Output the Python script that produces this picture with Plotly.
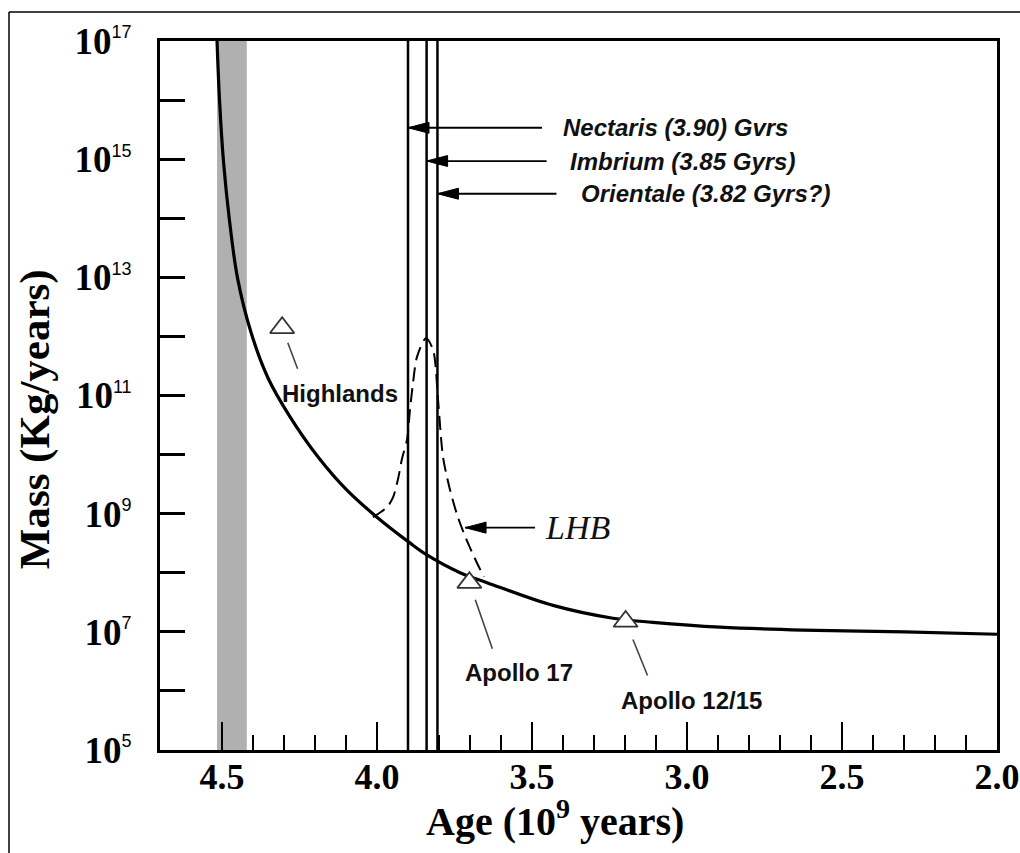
import numpy as np
import plotly.graph_objects as go

# impact flux curve (age in Gyr, mass in kg/yr)
curve_age = [4.516, 4.508, 4.495, 4.476, 4.450, 4.406, 4.352, 4.281, 4.190, 4.097,
             4.000, 3.894, 3.839, 3.732, 3.645, 3.432, 3.239, 3.110, 2.894, 2.626, 2.297, 2.0]
curve_mass = [1.0e17, 1.0e16, 8.9e14, 9.3e13, 9.8e12, 1.15e12, 2.0e11, 4.4e10, 9.1e9,
              2.5e9, 8.7e8, 3.2e8, 2.0e8, 1.0e8, 6.8e7, 2.8e7, 1.7e7, 1.45e7, 1.2e7, 1.07e7,
              1.0e7, 9.1e6]

# late heavy bombardment spike (dashed)
lhb_age = [4.013, 3.967, 3.948, 3.932, 3.919, 3.903, 3.894, 3.884, 3.871, 3.842, 3.819,
           3.803, 3.787, 3.765, 3.739, 3.710, 3.677, 3.655]
lhb_mass = [8.7e8, 1.3e9, 1.9e9, 3.9e9, 8.7e9, 1.8e10, 5.5e10, 1.6e11, 4.5e11, 9.3e11, 5.9e11,
            8.3e10, 9.1e9, 2.6e9, 8.7e8, 3.5e8, 1.45e8, 8.5e7]

# sample sites
site_names = ["Highlands", "Apollo 17", "Apollo 12/15"]
site_age = [4.306, 3.702, 3.198]
site_mass = [1.4e12, 6.8e7, 1.5e7]

# basin ages (vertical lines)
basin_names = ["Nectaris (3.90) Gvrs", "Imbrium (3.85 Gyrs)", "Orientale (3.82 Gyrs?)"]
basin_age = [3.90, 3.84, 3.805]
basin_arrow_mass = [3.4e15, 9.3e14, 2.6e14]

lhb_arrow_age = 3.716
lhb_arrow_mass = 5.8e8

band_age = [4.516, 4.42]

x_ticks = [4.5, 4.0, 3.5, 3.0, 2.5, 2.0]
x_minor = [4.4, 4.3, 4.2, 4.1, 3.9, 3.8, 3.7, 3.6, 3.4, 3.3, 3.2, 3.1,
           2.9, 2.8, 2.7, 2.6, 2.4, 2.3, 2.2, 2.1]
y_exp = list(range(5, 18))

SERIF = "Liberation Serif"
SANS = "Liberation Sans"

fig = go.Figure()

fig.add_trace(go.Scatter(x=lhb_age, y=lhb_mass, mode="lines", line_shape="spline",
                         line=dict(color="black", width=2, dash="14px,7px", smoothing=0.8)))
fig.add_trace(go.Scatter(x=curve_age, y=curve_mass, mode="lines", line_shape="spline",
                         line=dict(color="black", width=3.2, smoothing=1.0)))
fig.add_trace(go.Scatter(x=site_age, y=site_mass, mode="markers",
                         marker=dict(symbol="triangle-up", size=21, color="white",
                                     line=dict(color="#333", width=1.8))))

shapes = []
# gray band at 4.5 Gyr
shapes.append(dict(type="rect", xref="x", yref="paper", x0=band_age[0], x1=band_age[1],
                   y0=0, y1=1, fillcolor="#b0b0b0", line_width=0, layer="below"))
for a in basin_age:
    shapes.append(dict(type="line", xref="x", yref="paper", x0=a, x1=a, y0=0, y1=1,
                       line=dict(color="black", width=2.5)))

# horizontal arrows pointing at the basin lines and the LHB spike
arrow_tips = list(zip(basin_age, basin_arrow_mass, [134, 120, 119])) + \
    [(lhb_arrow_age, lhb_arrow_mass, 70)]
for a, m, length in arrow_tips:
    shapes.append(dict(type="line", xref="x", yref="y", xsizemode="pixel", xanchor=a,
                       x0=0, x1=length, y0=m, y1=m, line=dict(color="black", width=1.8)))
    shapes.append(dict(type="path", xref="x", yref="y", xsizemode="pixel", ysizemode="pixel",
                       xanchor=a, yanchor=m, path="M0,0 L21,5.5 L21,-5.5 Z",
                       fillcolor="black", line=dict(color="black", width=1)))

# outer frame of the figure (left and top edges)
shapes.append(dict(type="line", xref="paper", yref="paper", x0=-0.1804, x1=-0.1804,
                   y0=-0.2, y1=1.0409, line=dict(color="black", width=1.5)))
shapes.append(dict(type="line", xref="paper", yref="paper", x0=-0.1804, x1=1.05,
                   y0=1.0409, y1=1.0409, line=dict(color="black", width=1.5)))

annotations = []
# leader lines and labels of the sample sites
leaders = [(16, 42.5, 16), (23.5, 67.5, 18), (22.5, 55.5, 19.5)]
label_shift = [(-2, -65.5), (-6.5, -89.5), (-6.5, -79.5)]
for name, a, m, (ax, ay, so), (xs, ys) in zip(site_names, site_age, site_mass, leaders, label_shift):
    annotations.append(dict(x=a, y=np.log10(m), xref="x", yref="y", text="", showarrow=True,
                            arrowhead=0, arrowwidth=1.6, arrowcolor="#444",
                            ax=ax, ay=ay, standoff=so))
    annotations.append(dict(x=a, y=np.log10(m), xref="x", yref="y", text="<b>" + name + "</b>",
                            showarrow=False, xanchor="left", yanchor="middle",
                            xshift=xs, yshift=ys, font=dict(family=SANS, size=24, color="#111")))

for name, a, m, xs in zip(basin_names, basin_age, basin_arrow_mass, [153, 141, 142]):
    annotations.append(dict(x=a, y=np.log10(m), xref="x", yref="y",
                            text="<b><i>" + name + "</i></b>", showarrow=False,
                            xanchor="left", yanchor="middle", xshift=xs,
                            font=dict(family=SANS, size=24, color="#111")))

annotations.append(dict(x=lhb_arrow_age, y=np.log10(lhb_arrow_mass), xref="x", yref="y",
                        text="<i>LHB</i>", showarrow=False, xanchor="left", yanchor="middle",
                        xshift=78, font=dict(family=SERIF, size=34, color="#111")))

# axis titles
annotations.append(dict(x=-0.149, y=0.467, xref="paper", yref="paper",
                        xanchor="center", yanchor="middle",
                        text="<b>Mass (Kg/years)</b>", textangle=-90, showarrow=False,
                        font=dict(family=SERIF, size=43, color="black")))
annotations.append(dict(x=0.472, y=-0.096, xref="paper", yref="paper",
                        xanchor="center", yanchor="middle",
                        text="<b>Age (10<sup>9</sup> years)</b>", showarrow=False,
                        font=dict(family=SERIF, size=40, color="black")))

y_text = []
for e in y_exp:
    if e % 2 == 1:
        y_text.append("<b>10</b><sup><span style='font-family:Liberation Sans;font-size:18px'>"
                      + str(e) + "</span></sup>")
    else:
        y_text.append("")

fig.update_layout(
    template="none",
    width=1020, height=853,
    margin=dict(l=160, r=23, t=41, b=103, autoexpand=False),
    paper_bgcolor="white", plot_bgcolor="white",
    showlegend=False,
    shapes=shapes,
    annotations=annotations,
    xaxis=dict(range=[4.7, 2.0], tickmode="array", tickvals=x_ticks,
               ticktext=["<b>%.1f</b>" % v for v in x_ticks],
               ticks="inside", ticklen=28, tickwidth=2, tickcolor="black",
               minor=dict(tickmode="array", tickvals=x_minor, ticks="inside",
                          ticklen=15, tickwidth=2, tickcolor="black", showgrid=False),
               showline=True, linewidth=3, linecolor="black", mirror=True,
               showgrid=False, zeroline=False, automargin=False, ticklabelstandoff=-7,
               tickfont=dict(family=SERIF, size=36, color="black")),
    yaxis=dict(type="log", range=[5, 17], tickmode="array",
               tickvals=[10.0 ** e for e in y_exp], ticktext=y_text,
               ticks="inside", ticklen=25, tickwidth=2.5, tickcolor="black",
               showline=True, linewidth=3, linecolor="black", mirror=True,
               showgrid=False, zeroline=False, automargin=False, ticklabelstandoff=18,
               tickfont=dict(family=SERIF, size=37, color="black")),
)

fig.write_html("out.html", config={"displayModeBar": False},
               post_script="document.body.style.margin='0';document.body.style.overflow='hidden';")
